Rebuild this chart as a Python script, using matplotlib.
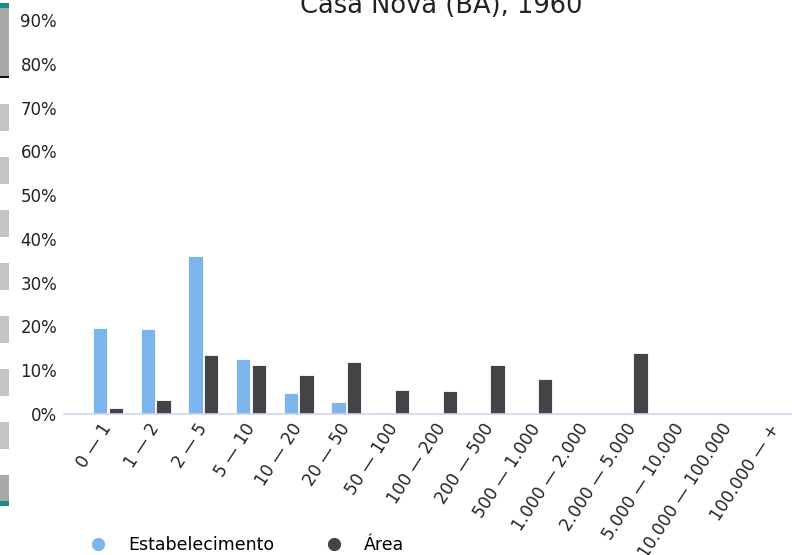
import matplotlib.pyplot as plt
import numpy as np
from matplotlib.lines import Line2D
from matplotlib.patches import Rectangle

# data
categories = ["0 — 1", "1 — 2", "2 — 5", "5 — 10", "10 — 20", "20 — 50",
              "50 — 100", "100 — 200", "200 — 500", "500 — 1.000",
              "1.000 — 2.000", "2.000 — 5.000", "5.000 — 10.000",
              "10.000 — 100.000", "100.000 — +"]
estabelecimento = [19.7, 19.5, 36.1, 12.5, 4.9, 2.8, 0.2, 0, 0, 0, 0, 0, 0, 0, 0]
area = [1.3, 3.2, 13.4, 11.2, 9.0, 11.8, 5.5, 5.2, 11.2, 7.9, 0, 14.0, 0, 0, 0]
yticks = [0, 10, 20, 30, 40, 50, 60, 70, 80, 90]

blue = "#7cb5ec"
dark = "#434348"

W, H = 792, 555
fig = plt.figure(figsize=(W / 100, H / 100), dpi=100)

# axes placed in pixels
left, right, top, bottom = 64, 792, 20, 414
ax = fig.add_axes([left / W, 1 - bottom / H, (right - left) / W, (bottom - top) / H])

x = np.arange(len(categories))
bw = 0.30
ax.bar(x - 0.165, estabelecimento, bw, color=blue, edgecolor="white", linewidth=0.6)
ax.bar(x + 0.165, area, bw, color=dark, edgecolor="white", linewidth=0.6)

ax.set_xlim(-0.92, 14.34)
ax.set_ylim(0, 90)
ax.set_yticks(yticks)
ax.set_yticklabels([f"{v}%" for v in yticks], fontsize=12, color="#222222")
ax.set_xticks(x)
ax.set_xticklabels(categories, rotation=57, ha="right", va="center",
                   rotation_mode="anchor", fontsize=12.2, color="#222222")
ax.tick_params(axis="both", length=0)
ax.tick_params(axis="y", pad=5)
ax.tick_params(axis="x", pad=8)
for s in ["top", "right", "left"]:
    ax.spines[s].set_visible(False)
ax.spines["bottom"].set_color("#ccd6eb")
ax.spines["bottom"].set_linewidth(1.2)

fig.text(441 / W, 1 - 13 / H, "Casa Nova (BA), 1960", ha="center", va="baseline",
         fontsize=18.5, color="#222222")

# legend
handles = [Line2D([], [], marker="o", linestyle="none", color=blue, markersize=8.5),
           Line2D([], [], marker="o", linestyle="none", color=dark, markersize=8.5)]
fig.legend(handles, ["Estabelecimento", "Área"], loc="center left",
           bbox_to_anchor=(74 / W, 1 - 545 / H), ncol=2, frameon=False,
           fontsize=12.5, handletextpad=0.75, columnspacing=2.4, borderaxespad=0)

# left-side slider strip
fig.patches.append(Rectangle((0, 1 - 77 / H), 9 / W, 73 / H, transform=fig.transFigure,
                             facecolor="#a8a8a8", edgecolor="none"))
fig.patches.append(Rectangle((0, 1 - 8 / H), 9 / W, 5 / H, transform=fig.transFigure,
                             facecolor="#1a8a8a", edgecolor="none"))
fig.patches.append(Rectangle((0, 1 - 78 / H), 9 / W, 2 / H, transform=fig.transFigure,
                             facecolor="#111111", edgecolor="none"))
for y0 in [104, 157, 210, 263, 316, 369, 422]:
    fig.patches.append(Rectangle((0, 1 - (y0 + 27) / H), 9 / W, 27 / H,
                                 transform=fig.transFigure, facecolor="#c4c4c4",
                                 edgecolor="none"))
fig.patches.append(Rectangle((0, 1 - 503 / H), 9 / W, 28 / H, transform=fig.transFigure,
                             facecolor="#a8a8a8", edgecolor="none"))
fig.patches.append(Rectangle((0, 1 - 506 / H), 9 / W, 5 / H, transform=fig.transFigure,
                             facecolor="#1a8a8a", edgecolor="none"))

fig.savefig("out.png", dpi=100)
